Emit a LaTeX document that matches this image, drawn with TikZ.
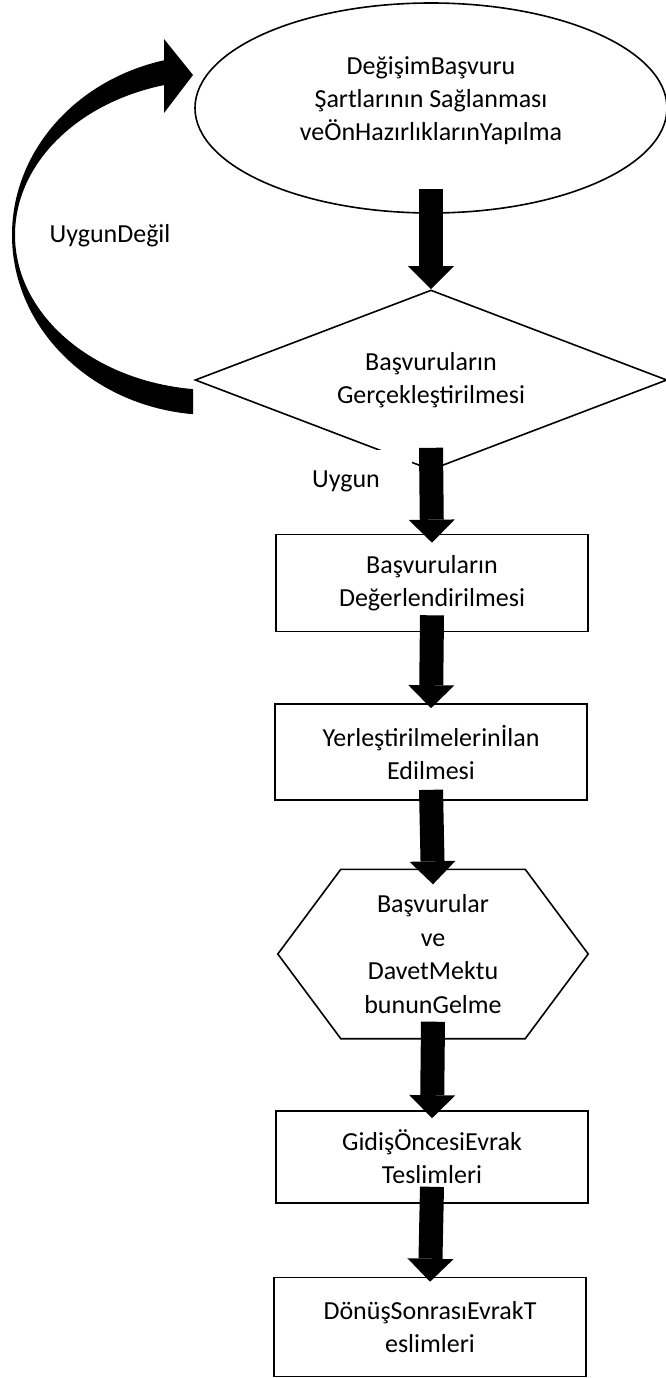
\documentclass[tikz,border=0pt]{standalone}
\usepackage{fontspec}
\setmainfont{Carlito}
\usetikzlibrary{arrows.meta,positioning,shapes.geometric}

\begin{document}
\begin{tikzpicture}[
    x=1pt, y=-1pt,
    every node/.style={font=\fontsize{26}{33}\selectfont, align=center},
    outline/.style={draw, line width=1.6pt},
    box/.style={outline, fill=white, minimum width=312pt},
    bigarrow/.style={line width=24pt, -{Triangle[width=46pt, length=23pt, line width=0pt]}}
]
    \useasboundingbox (0,0) rectangle (665,1378);

    % start of the process
    \node[outline, ellipse, minimum width=472pt, minimum height=210pt] (start) at (431,108) {};
    \node (starttext) at (431,101) {DeğişimBaşvuru\\Şartlarının Sağlanması\\veÖnHazırlıklarınYapılma};

    % decision
    \node[outline, diamond, aspect=2.6, inner sep=0pt, minimum width=472pt, minimum height=180pt] (check) at (431,380) {Başvuruların\\Gerçekleştirilmesi};
    \node[fill=white, minimum width=131pt, minimum height=62pt] (ok) at (346,481) {Uygun};
    \node (notok) at (110,236) {UygunDeğil};

    % loop back to the start
    \fill (164,60.3) .. controls (74.8,80.2) and (12,152.3) .. (12,235)
        .. controls (12,327.7) and (90.4,405.3) .. (193,414.2) -- (193,389.1)
        .. controls (91.6,380.4) and (15,314) .. (15,235)
        .. controls (15,164.6) and (76.2,103.1) .. (164,85.1)
        -- (164,113) -- (193,75) -- (164,39) -- cycle;

    % steps
    \node[box, minimum height=97pt] (eval) at (432,583) {Başvuruların\\Değerlendirilmesi};
    \node[box, minimum height=96pt] (place) at (431,752) {Yerleştirilmelerinİlan\\Edilmesi};
    \node[minimum width=310pt, minimum height=169pt, font=\fontsize{26}{33.7}\selectfont] (invite) at (433,954) {Başvurular\\ve\\DavetMektu\\bununGelme};
    \draw[outline] ([xshift=63pt]invite.north west) -- ([xshift=-63pt]invite.north east) -- (invite.east)
        -- ([xshift=-63pt]invite.south east) -- ([xshift=63pt]invite.south west) -- (invite.west) -- cycle;
    \node[box, minimum height=92pt] (depart) at (432,1157) {GidişÖncesiEvrak\\Teslimleri};
    \node[box, minimum height=99pt] (back) at (430,1327) {DönüşSonrasıEvrakT\\eslimleri};

    % arrows
    \draw[bigarrow] ([yshift=25pt]start.south) -- (check.north);
    \draw[bigarrow] ([yshift=23pt]check.south) -- ([yshift=-9pt]eval.north);
    \draw[bigarrow] ([yshift=17pt]eval.south) -- ([yshift=-5pt]place.north);
    \draw[bigarrow] ([yshift=11pt]place.south) -- ([yshift=-15pt]invite.north);
    \draw[bigarrow] ([yshift=17pt]invite.south) -- ([yshift=-8pt]depart.north);
    \draw[bigarrow] ([yshift=17pt]depart.south) -- ([yshift=-5pt]back.north);
\end{tikzpicture}
\end{document}
